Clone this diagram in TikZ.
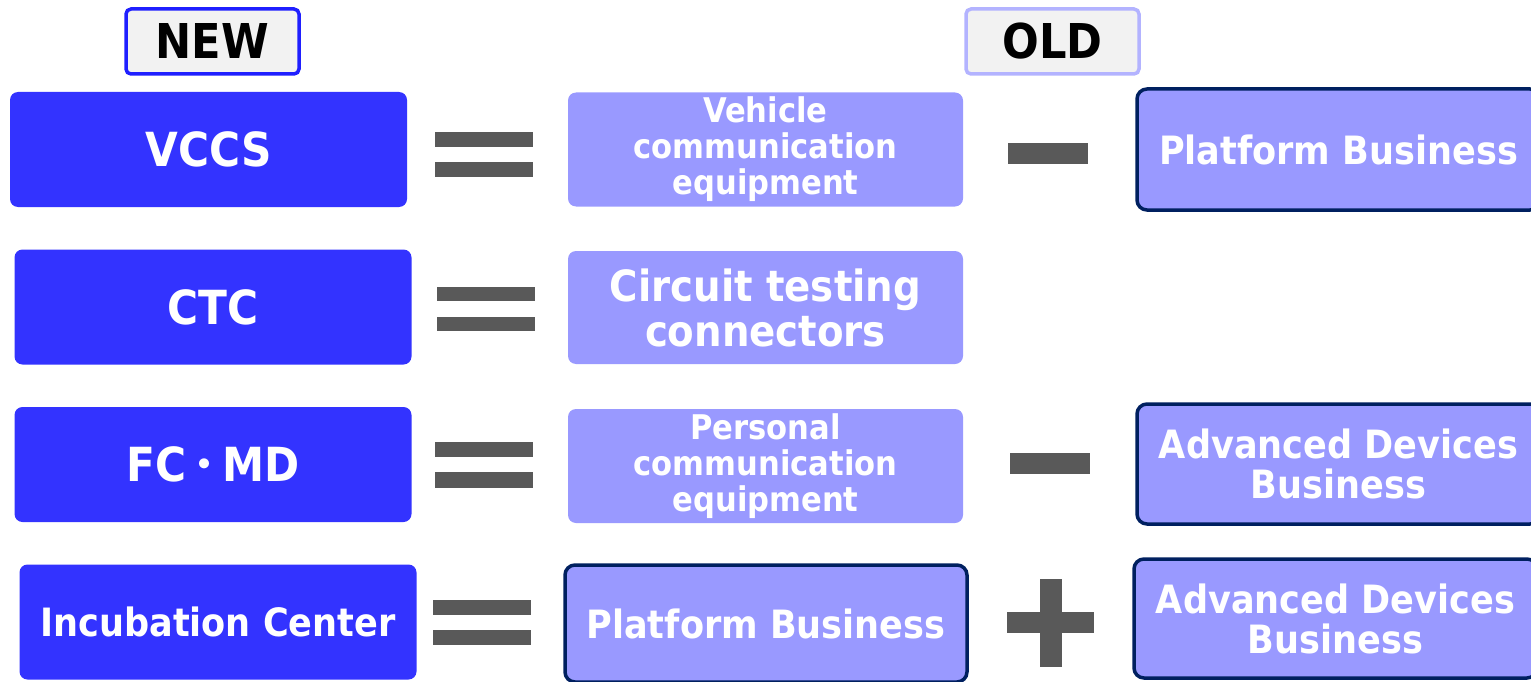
\documentclass[tikz,border=0pt]{standalone}
\usepackage{fontspec}
\setmainfont{DejaVu Sans Condensed}[BoldFont=* Bold]
\newfontfamily\cjk{Noto Sans CJK JP}
\definecolor{newblue}{HTML}{3333FF}
\definecolor{oldfill}{HTML}{9999FF}
\definecolor{navy}{HTML}{002060}
\definecolor{opgray}{HTML}{595959}
\definecolor{tagfill}{HTML}{F2F2F2}
\definecolor{newedge}{HTML}{1F1FFF}
\definecolor{oldedge}{HTML}{B3B3FF}
\tikzset{
  tag/.style={fill=tagfill, line width=3.5pt, rounded corners=5pt,
    minimum width=173pt, minimum height=65pt, inner sep=0pt,
    font=\bfseries\fontsize{48}{52}\selectfont, text=black},
  newbox/.style={fill=newblue, draw=none, rounded corners=8pt, text=white,
    minimum width=397pt, minimum height=115pt, inner sep=0pt,
    font=\bfseries\fontsize{47}{52}\selectfont},
  midbox/.style={fill=oldfill, draw=none, rounded corners=8pt, text=white,
    minimum width=395pt, minimum height=114pt, inner sep=0pt, align=center},
  oldbox/.style={fill=oldfill, draw=navy, line width=3.5pt, rounded corners=10pt,
    text=white, inner sep=0pt, align=center,
    font=\bfseries\fontsize{39}{40}\selectfont},
  op/.style={fill=opgray},
}
\begin{document}
\begin{tikzpicture}[x=1pt,y=-1pt]
\useasboundingbox (0,0) rectangle (1531,682);
\clip (0,0) rectangle (1531,682);

% column headings
\node[tag, draw=newedge] (new) at (212.5,41.5) {NEW};
\node[tag, draw=oldedge] (old) at (1052.5,41.5) {OLD};

% row 1
\node[newbox] (vccs) at (208.5,149.5) {VCCS};
\fill[op] (435,132) rectangle (533,147);
\fill[op] (435,162) rectangle (533,177);
\node[midbox, font=\bfseries\fontsize{34}{36}\selectfont] (vce) at (765.5,149.5)
  {Vehicle\\communication\\equipment};
\fill[op] (1008,143) rectangle (1088,164);
\node[oldbox, minimum width=403pt, minimum height=121pt] (pb1) at (1338.5,149.5)
  {Platform Business};

% row 2
\node[newbox] (ctc) at (213,307) {CTC};
\fill[op] (437,287) rectangle (535,301);
\fill[op] (437,317) rectangle (535,331);
\node[midbox, minimum height=113pt, font=\bfseries\fontsize{43}{45}\selectfont]
  (ctcon) at (765.5,307.5) {Circuit testing\\connectors};

% row 3
\node[newbox] (fcmd) at (213,464.5)
  {FC\raisebox{4pt}{\cjk\fontsize{36}{36}\selectfont ・}MD};
\fill[op] (435,442) rectangle (533,457);
\fill[op] (435,472) rectangle (533,488);
\node[midbox, font=\bfseries\fontsize{34}{36}\selectfont] (pce) at (765.5,466)
  {Personal\\communication\\equipment};
\fill[op] (1010,453) rectangle (1090,474);
\node[oldbox, minimum width=403pt, minimum height=120pt] (adb1) at (1338.5,464)
  {Advanced Devices\\Business};

% row 4
\node[newbox, font=\bfseries\fontsize{39}{42}\selectfont] (inc) at (218,622)
  {Incubation Center};
\fill[op] (433,600) rectangle (531,615);
\fill[op] (433,630) rectangle (531,645);
\node[oldbox, minimum width=402pt, minimum height=117pt] (pb2) at (766,623.5)
  {Platform Business};
\fill[op] (1007,612) rectangle (1094,633);
\fill[op] (1040,579) rectangle (1062,667);
\node[oldbox, minimum width=403pt, minimum height=119pt] (adb2) at (1335.5,618.5)
  {Advanced Devices\\Business};
\end{tikzpicture}
\end{document}
